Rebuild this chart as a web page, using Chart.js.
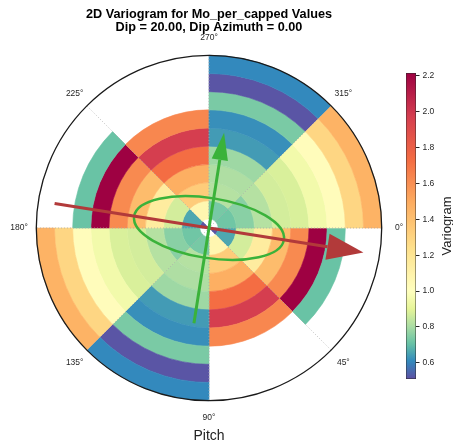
<!DOCTYPE html>
<html>
<head>
<meta charset="utf-8">
<script src="https://cdn.jsdelivr.net/npm/chart.js@4.4.1/dist/chart.umd.min.js"></script>
<style>
  html, body { margin: 0; padding: 0; background: #fff; }
  #wrap { position: relative; width: 453px; height: 447px; overflow: hidden; }
  #polar { position: absolute; left: 0; top: 0; }
  #cbar { position: absolute; left: 401px; top: 63px; }
</style>
</head>
<body>
<div id="wrap">
  <canvas id="polar" width="453" height="447"></canvas>
  <canvas id="cbar" width="45" height="326"></canvas>
</div>
<script>
// Lag bins (ring centres, in lag units); bin 0 is the half-width centre bin
const lagBins = [0, 1, 2, 3, 4, 5, 6, 7, 8, 9];

// Pitch sectors, 45° wide, measured clockwise from 0°
const pitchSectors = ['0-45', '45-90', '90-135', '135-180', '180-225', '225-270', '270-315', '315-360'];

// Variogram value for each lag bin, per pitch direction (opposite sectors share values)
const pitch0to45    = [0.52, 0.66, 0.87, 1.15, 1.42, 1.62, 2.215, 0.71, null, null];
const pitch45to90   = [null, 1.07, 1.34, 1.48, 1.73, 1.97, 1.63, null, null, null];
const pitch90to135  = [null, 0.73, 0.82, 0.81, 0.785, 0.64, 0.62, 0.735, 0.52, 0.61];
const pitch135to180 = [null, 0.72, 0.755, 0.82, 0.87, 0.88, 0.95, 1.02, 1.29, 1.46];

// Angular tick positions and their labels
const angleTicks  = [0, 45, 90, 135, 180, 225, 270, 315];
const angleLabels = ['0°', '45°', '90°', '135°', '180°', '225°', '270°', '315°'];

// Colour bar ticks and colour normalisation (two slopes around the sill)
const colorbarTicks = [0.6, 0.8, 1.0, 1.2, 1.4, 1.6, 1.8, 2.0, 2.2];
const vMin = 0.51, vCenter = 1.0, vMax = 2.215;

// Anisotropy overlay (azimuth in degrees clockwise from 0°, lengths in lag units)
const majorAzimuth = 9;
const majorArrowLength = 8.6;
const minorArrowLength = 5.3;
const ellipseMajor = 4.17;
const ellipseMinor = 1.65;

const titleLines = ['2D Variogram for Mo_per_capped Values', 'Dip = 20.00, Dip Azimuth = 0.00'];
const FONT = '"Liberation Sans", Arial, Helvetica, sans-serif';

// Spectral colormap, reversed (low = purple, high = crimson)
const spectralR = ['#5e4fa2', '#3288bd', '#66c2a5', '#abdda4', '#e6f598', '#ffffbf',
                   '#fee08b', '#fdae61', '#f46d43', '#d53e4f', '#9e0142'];
const anchors = spectralR.map(h => [1, 3, 5].map(i => parseInt(h.substr(i, 2), 16)));

function cmap(t) {
  t = Math.min(1, Math.max(0, t));
  const x = t * (anchors.length - 1);
  const i = Math.min(Math.floor(x), anchors.length - 2);
  const f = x - i;
  const a = anchors[i], b = anchors[i + 1];
  const c = a.map((av, k) => Math.round(av + (b[k] - av) * f));
  return `rgb(${c[0]},${c[1]},${c[2]})`;
}
function norm(v) {
  return v < vCenter ? 0.5 * (v - vMin) / (vCenter - vMin)
                     : 0.5 + 0.5 * (v - vCenter) / (vMax - vCenter);
}
const colorFor = v => cmap(norm(v));

// One doughnut ring per lag bin, outermost ring first
const sectorSeries = [pitch0to45, pitch45to90, pitch90to135, pitch135to180,
                      pitch0to45, pitch45to90, pitch90to135, pitch135to180];
const datasets = lagBins.slice().reverse().map(bin => {
  const values = sectorSeries.map(s => s[bin]);
  const colors = values.map(v => v == null ? 'rgba(0,0,0,0)' : colorFor(v));
  return {
    label: 'Lag ' + bin,
    data: pitchSectors.map(() => 1),
    backgroundColor: colors,
    borderColor: colors,
    borderWidth: 0.6,
    hoverOffset: 0,
    weight: bin === 0 ? 0.5 : 1
  };
});

function drawArrow(ctx, cx, cy, deg, len, headLen, headWidth, color, lw) {
  const a = deg * Math.PI / 180;
  const ux = Math.cos(a), uy = Math.sin(a);
  const px = -uy, py = ux;
  const tipX = cx + ux * len, tipY = cy + uy * len;
  const baseX = cx + ux * (len - headLen), baseY = cy + uy * (len - headLen);
  ctx.save();
  ctx.strokeStyle = color;
  ctx.fillStyle = color;
  ctx.lineWidth = lw;
  ctx.lineCap = 'butt';
  ctx.beginPath();
  ctx.moveTo(cx - ux * len, cy - uy * len);
  ctx.lineTo(baseX, baseY);
  ctx.stroke();
  ctx.beginPath();
  ctx.moveTo(tipX, tipY);
  ctx.lineTo(baseX + px * headWidth / 2, baseY + py * headWidth / 2);
  ctx.lineTo(baseX - px * headWidth / 2, baseY - py * headWidth / 2);
  ctx.closePath();
  ctx.fill();
  ctx.restore();
}

const polarDecor = {
  id: 'polarDecor',
  afterDatasetsDraw(chart) {
    const ctx = chart.ctx;
    const outer = chart.getDatasetMeta(0).data[0];
    const cx = outer.x, cy = outer.y, R = outer.outerRadius;
    const unit = R / (lagBins[lagBins.length - 1] + 0.5);

    // angular grid lines
    ctx.save();
    ctx.strokeStyle = 'rgba(170,170,170,0.95)';
    ctx.lineWidth = 0.8;
    ctx.setLineDash([1, 2]);
    angleTicks.forEach(deg => {
      const a = deg * Math.PI / 180;
      ctx.beginPath();
      ctx.moveTo(cx, cy);
      ctx.lineTo(cx + R * Math.cos(a), cy + R * Math.sin(a));
      ctx.stroke();
    });
    ctx.restore();

    // outer frame
    ctx.save();
    ctx.strokeStyle = '#1a1a1a';
    ctx.lineWidth = 1.3;
    ctx.beginPath();
    ctx.arc(cx, cy, R, 0, Math.PI * 2);
    ctx.stroke();
    ctx.restore();

    // anisotropy ellipse
    const green = 'rgb(58,178,58)';
    const red = 'rgb(178,58,58)';
    ctx.save();
    ctx.translate(cx, cy);
    ctx.rotate(majorAzimuth * Math.PI / 180);
    ctx.strokeStyle = green;
    ctx.lineWidth = 2.5;
    ctx.beginPath();
    ctx.ellipse(0, 0, ellipseMajor * unit, ellipseMinor * unit, 0, 0, Math.PI * 2);
    ctx.stroke();
    ctx.restore();

    // major and minor direction arrows
    drawArrow(ctx, cx, cy, majorAzimuth, majorArrowLength * unit, 2.0 * unit, 1.45 * unit, red, 3);
    drawArrow(ctx, cx, cy, majorAzimuth - 90, minorArrowLength * unit, 1.5 * unit, 0.9 * unit, green, 3);

    // angle labels
    ctx.save();
    ctx.fillStyle = '#262626';
    ctx.font = `8.5px ${FONT}`;
    ctx.textAlign = 'center';
    ctx.textBaseline = 'middle';
    angleTicks.forEach((deg, i) => {
      const a = deg * Math.PI / 180;
      const r = R * 1.1;
      ctx.fillText(angleLabels[i], cx + r * Math.cos(a), cy + r * Math.sin(a));
    });
    ctx.restore();

    // title, axis label and colour bar label
    ctx.save();
    ctx.fillStyle = '#000';
    ctx.textAlign = 'center';
    ctx.textBaseline = 'alphabetic';
    ctx.font = `bold 12.7px ${FONT}`;
    ctx.fillText(titleLines[0], cx, 18);
    ctx.fillText(titleLines[1], cx, 30.5);
    ctx.fillStyle = '#222';
    ctx.font = `14px ${FONT}`;
    ctx.textBaseline = 'middle';
    ctx.fillText('Pitch', cx, 436);
    ctx.translate(447, 226);
    ctx.rotate(-Math.PI / 2);
    ctx.font = `13px ${FONT}`;
    ctx.fillText('Variogram', 0, 0);
    ctx.restore();
  }
};

new Chart(document.getElementById('polar'), {
  type: 'doughnut',
  data: { labels: pitchSectors, datasets },
  options: {
    responsive: false,
    animation: false,
    events: [],
    rotation: 90,
    circumference: 360,
    cutout: 0,
    layout: { padding: { left: 36, top: 55, right: 71, bottom: 46 } },
    plugins: { legend: { display: false }, tooltip: { enabled: false }, title: { display: false } }
  },
  plugins: [polarDecor]
});

// Colour bar: one floating bar spanning the value range, filled with the colormap
new Chart(document.getElementById('cbar'), {
  type: 'bar',
  data: {
    labels: [''],
    datasets: [{
      data: [[vMin, vMax]],
      backgroundColor(ctx) {
        const chart = ctx.chart;
        const y = chart.scales.y;
        if (!chart.chartArea || !y) return '#fff';
        const g = chart.ctx.createLinearGradient(0, y.getPixelForValue(vMin), 0, y.getPixelForValue(vMax));
        const n = 100;
        for (let i = 0; i <= n; i++) {
          g.addColorStop(i / n, colorFor(vMin + (vMax - vMin) * i / n));
        }
        return g;
      },
      borderColor: '#2a2a2a',
      borderWidth: 0.8,
      borderSkipped: false,
      barPercentage: 1,
      categoryPercentage: 1
    }]
  },
  options: {
    responsive: false,
    animation: false,
    events: [],
    layout: { padding: { left: 5, top: 10, bottom: 10, right: 0 } },
    plugins: { legend: { display: false }, tooltip: { enabled: false } },
    scales: {
      x: { display: false },
      y: {
        position: 'right',
        min: vMin,
        max: vMax,
        afterBuildTicks(scale) { scale.ticks = colorbarTicks.map(v => ({ value: v })); },
        afterFit(scale) { scale.width = 30; },
        ticks: {
          font: { size: 8.5, family: FONT },
          color: '#262626',
          padding: 3,
          callback: v => Number(v).toFixed(1)
        },
        grid: { drawOnChartArea: false, drawTicks: true, tickLength: 3.5, tickColor: '#262626' },
        border: { display: false }
      }
    }
  }
});
</script>
</body>
</html>
